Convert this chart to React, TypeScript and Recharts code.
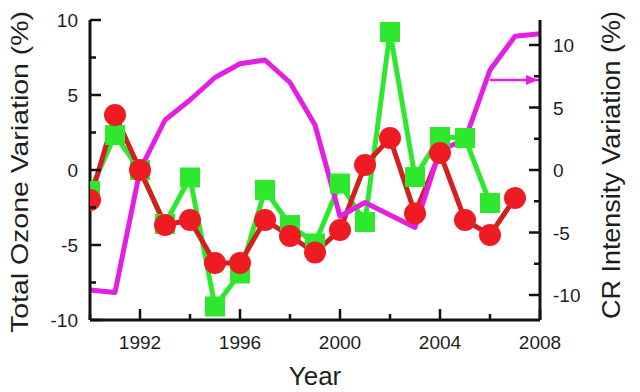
import React from 'react';
import { LineChart, Line, XAxis, YAxis, Label } from 'recharts';

const years = [1990, 1991, 1992, 1993, 1994, 1995, 1996, 1997, 1998, 1999, 2000, 2001, 2002, 2003, 2004, 2005, 2006, 2007, 2008];
const ozoneRed = [-2.0, 3.67, 0, -3.67, -3.33, -6.2, -6.2, -3.33, -4.4, -5.5, -4.0, 0.33, 2.13, -2.9, 1.13, -3.33, -4.33, -1.87, null];
const ozoneGreen = [-1.4, 2.33, 0, -3.6, -0.5, -9.1, -6.9, -1.33, -3.67, -4.9, -0.9, -3.47, 9.2, -0.47, 2.2, 2.13, -2.2, null, null];
const crIntensity = [-9.6, -9.8, 0, 4.0, 5.6, 7.4, 8.5, 8.8, 7.0, 3.6, -3.7, -2.6, -3.6, -4.6, 1.6, 2.4, 8.0, 10.7, 10.9];
const crArrow = [null, null, null, null, null, null, null, null, null, null, null, null, null, null, null, null, 7.2, 7.2, 7.2];

const xTicks = [1990, 1992, 1994, 1996, 1998, 2000, 2002, 2004, 2006, 2008];
const xMajor = [1992, 1996, 2000, 2004, 2008];
const yTicks = [-10, -7.5, -5, -2.5, 0, 2.5, 5, 7.5, 10];
const yMajor = [-10, -5, 0, 5, 10];

const data = years.map((year, i) => ({
  year,
  red: ozoneRed[i],
  green: ozoneGreen[i],
  cr: crIntensity[i],
  arrow: crArrow[i],
}));

const FONT = '"Liberation Sans", Arial, Helvetica, sans-serif';
const TEXT = '#1e1e1e';
const FRAME = '#111';
const RED_LINE = '#d21f1f';
const RED_DOT = '#ee1c22';
const GREEN = '#2ee82e';
const MAGENTA = '#e21fe2';

type Side = 'bottom' | 'top' | 'left' | 'right';

const makeTick = (side: Side, majors: number[], showLabels: boolean) => (props: any) => {
  const { x, y, payload, index } = props;
  const v = payload.value as number;
  const major = majors.includes(v);
  const len = major ? 11 : 6;
  const sw = 2.5;
  let line: React.ReactNode = null;
  let label: React.ReactNode = null;
  const tStyle = { fontFamily: FONT, fontSize: 19, fill: TEXT };
  if (side === 'bottom') {
    line = <line x1={x} x2={x} y1={y} y2={y - len} stroke={FRAME} strokeWidth={sw} />;
    if (showLabels && major) label = <text x={x} y={y + 29} textAnchor="middle" style={tStyle}>{v}</text>;
  } else if (side === 'top') {
    line = <line x1={x} x2={x} y1={y} y2={y + len} stroke={FRAME} strokeWidth={sw} />;
  } else if (side === 'left') {
    line = <line x1={x} x2={x + len} y1={y} y2={y} stroke={FRAME} strokeWidth={sw} />;
    if (showLabels && major) label = <text x={x - 12} y={y + 7} textAnchor="end" style={tStyle}>{v}</text>;
  } else {
    line = <line x1={x} x2={x - len} y1={y} y2={y} stroke={FRAME} strokeWidth={sw} />;
    if (showLabels && major) label = <text x={x + 13} y={y + 7} textAnchor="start" style={tStyle}>{v}</text>;
  }
  return <g key={`t-${side}-${index}`}>{line}{label}</g>;
};

const titleStyle = { fontFamily: FONT, fill: TEXT };

const BottomTitle = (p: any) => {
  const vb = p.viewBox || { x: 0, y: 0, width: 0, height: 0 };
  return (
    <text x={vb.x + vb.width / 2} y={vb.y + 65} textAnchor="middle" style={{ ...titleStyle, fontSize: 26 }}>
      Year
    </text>
  );
};

const LeftTitle = (p: any) => {
  const vb = p.viewBox || { x: 0, y: 0, width: 0, height: 0 };
  const cx = vb.x + 28;
  const cy = vb.y + vb.height / 2 + 2;
  return (
    <text
      x={cx}
      y={cy}
      transform={`rotate(-90, ${cx}, ${cy})`}
      textAnchor="middle"
      textLength={322}
      lengthAdjust="spacingAndGlyphs"
      style={{ ...titleStyle, fontSize: 24 }}
    >
      Total Ozone Variation (%)
    </text>
  );
};

const RightTitle = (p: any) => {
  const vb = p.viewBox || { x: 0, y: 0, width: 0, height: 0 };
  const cx = vb.x + 80;
  const cy = vb.y + vb.height / 2 - 5;
  return (
    <text
      x={cx}
      y={cy}
      transform={`rotate(-90, ${cx}, ${cy})`}
      textAnchor="middle"
      textLength={308}
      lengthAdjust="spacingAndGlyphs"
      style={{ ...titleStyle, fontSize: 25 }}
    >
      CR Intensity Variation (%)
    </text>
  );
};

const SquareDot = (props: any) => {
  const { cx, cy, index } = props;
  if (cx == null || cy == null || Number.isNaN(cy)) return <g key={`sq-${index}`} />;
  return <rect key={`sq-${index}`} x={cx - 10} y={cy - 10} width={20} height={20} fill={GREEN} />;
};

const CircleDot = (props: any) => {
  const { cx, cy, index } = props;
  if (cx == null || cy == null || Number.isNaN(cy)) return <g key={`c-${index}`} />;
  return <circle key={`c-${index}`} cx={cx} cy={cy} r={11} fill={RED_DOT} />;
};

const ArrowHead = (props: any) => {
  const { cx, cy, index } = props;
  if (cx == null || cy == null || index !== years.length - 1) return <g key={`a-${index}`} />;
  const tip = cx - 2;
  return <path key={`a-${index}`} d={`M${tip},${cy} L${tip - 12},${cy - 5} L${tip - 12},${cy + 5} Z`} fill={MAGENTA} />;
};

const axisLine = { stroke: FRAME, strokeWidth: 3 };

export default function App() {
  return (
    <div style={{ position: 'absolute', left: 0, top: 0, width: 640, height: 392, background: '#fff' }}>
      <LineChart width={640} height={392} data={data} margin={{ top: 20, right: 0, bottom: 0, left: 0 }}>
        <XAxis
          xAxisId="bottom"
          dataKey="year"
          type="number"
          domain={[1990, 2008]}
          ticks={xTicks}
          interval={0}
          allowDataOverflow
          height={72}
          axisLine={axisLine}
          tickLine={false}
          tickSize={0}
          tickMargin={0}
          tick={makeTick('bottom', xMajor, true)}
        >
          <Label content={<BottomTitle />} />
        </XAxis>
        <XAxis
          xAxisId="top"
          orientation="top"
          dataKey="year"
          type="number"
          domain={[1990, 2008]}
          ticks={xTicks}
          interval={0}
          allowDataOverflow
          height={0}
          axisLine={axisLine}
          tickLine={false}
          tickSize={0}
          tickMargin={0}
          tick={makeTick('top', xMajor, false)}
        />
        <YAxis
          yAxisId="left"
          type="number"
          domain={[-10, 10]}
          ticks={yTicks}
          interval={0}
          allowDataOverflow
          width={90}
          axisLine={axisLine}
          tickLine={false}
          tickSize={0}
          tickMargin={0}
          tick={makeTick('left', yMajor, true)}
        >
          <Label content={<LeftTitle />} />
        </YAxis>
        <YAxis
          yAxisId="right"
          orientation="right"
          type="number"
          domain={[-12, 12]}
          ticks={yTicks}
          interval={0}
          allowDataOverflow
          width={100}
          axisLine={axisLine}
          tickLine={false}
          tickSize={0}
          tickMargin={0}
          tick={makeTick('right', yMajor, true)}
        >
          <Label content={<RightTitle />} />
        </YAxis>
        <Line
          xAxisId="bottom"
          yAxisId="left"
          type="linear"
          dataKey="green"
          stroke={GREEN}
          strokeWidth={5}
          dot={SquareDot}
          activeDot={false}
          isAnimationActive={false}
        />
        <Line
          xAxisId="bottom"
          yAxisId="left"
          type="linear"
          dataKey="red"
          stroke={RED_LINE}
          strokeWidth={5}
          dot={CircleDot}
          activeDot={false}
          isAnimationActive={false}
        />
        <Line
          xAxisId="bottom"
          yAxisId="right"
          type="linear"
          dataKey="cr"
          stroke={MAGENTA}
          strokeWidth={5}
          strokeLinejoin="round"
          dot={false}
          activeDot={false}
          isAnimationActive={false}
        />
        <Line
          xAxisId="bottom"
          yAxisId="right"
          type="linear"
          dataKey="arrow"
          stroke={MAGENTA}
          strokeWidth={2.5}
          dot={ArrowHead}
          activeDot={false}
          isAnimationActive={false}
        />
      </LineChart>
    </div>
  );
}
